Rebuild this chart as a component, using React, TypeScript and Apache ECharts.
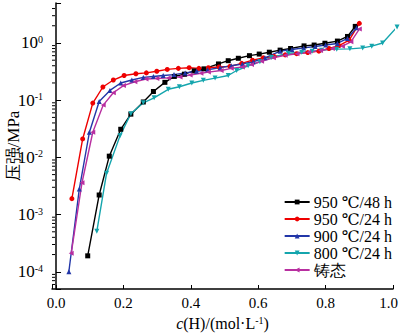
import React, { useEffect, useRef } from "react";
import * as echarts from "echarts";

const seriesNames = ["950 ℃/48 h", "950 ℃/24 h", "900 ℃/24 h", "800 ℃/24 h", "铸态"];
const seriesColors = ["#000000", "#ee0000", "#2236a8", "#14a5ad", "#b82fa0"];
const seriesSymbols = ["rect", "circle", "triangle", "triangle", "triangle"];
const seriesRotate = [0, 0, 0, 180, 90];

const x950_48 = [0.094, 0.128, 0.158, 0.192, 0.222, 0.259, 0.289, 0.323, 0.351, 0.381, 0.41, 0.439, 0.482, 0.511, 0.541, 0.574, 0.603, 0.633, 0.665, 0.696, 0.736, 0.766, 0.798, 0.835, 0.865, 0.888];
const p950_48 = [1.9e-4, 2.2e-3, 0.0105, 0.031, 0.057, 0.093, 0.142, 0.205, 0.26, 0.285, 0.325, 0.353, 0.43, 0.49, 0.54, 0.6, 0.64, 0.69, 0.75, 0.8, 0.89, 0.92, 0.99, 1.08, 1.3, 1.95];

const x950_24 = [0.047, 0.079, 0.109, 0.139, 0.17, 0.202, 0.237, 0.268, 0.299, 0.33, 0.363, 0.395, 0.424, 0.452, 0.484, 0.516, 0.551, 0.583, 0.615, 0.647, 0.68, 0.714, 0.747, 0.78, 0.81, 0.84, 0.87, 0.9];
const p950_24 = [1.9e-3, 0.021, 0.089, 0.17, 0.225, 0.27, 0.29, 0.3, 0.32, 0.345, 0.36, 0.37, 0.36, 0.37, 0.38, 0.39, 0.44, 0.5, 0.55, 0.58, 0.62, 0.65, 0.68, 0.72, 0.8, 0.9, 1.12, 2.2];

const x900_24 = [0.038, 0.069, 0.099, 0.128, 0.16, 0.192, 0.225, 0.259, 0.289, 0.318, 0.35, 0.383, 0.417, 0.45, 0.487, 0.52, 0.553, 0.585, 0.62, 0.665, 0.7, 0.735, 0.769, 0.8, 0.835, 0.865, 0.892];
const p900_24 = [1e-4, 2.8e-3, 0.0275, 0.095, 0.148, 0.2, 0.225, 0.25, 0.26, 0.27, 0.28, 0.3, 0.32, 0.34, 0.37, 0.4, 0.43, 0.47, 0.55, 0.72, 0.77, 0.82, 0.87, 0.92, 0.98, 1.2, 1.85];

const x800_24 = [0.121, 0.15, 0.19, 0.222, 0.259, 0.291, 0.333, 0.366, 0.403, 0.437, 0.472, 0.511, 0.536, 0.57, 0.605, 0.64, 0.689, 0.729, 0.76, 0.788, 0.833, 0.872, 0.91, 0.937, 0.969, 1.012];
const p800_24 = [5.1e-4, 5.3e-3, 0.024, 0.058, 0.09, 0.11, 0.155, 0.172, 0.2, 0.222, 0.243, 0.27, 0.33, 0.4, 0.47, 0.56, 0.66, 0.69, 0.72, 0.75, 0.78, 0.79, 0.82, 0.88, 1.0, 1.9];

const xCast = [0.045, 0.077, 0.109, 0.14, 0.17, 0.2, 0.234, 0.267, 0.299, 0.333, 0.368, 0.398, 0.43, 0.452, 0.49, 0.52, 0.553, 0.58, 0.61, 0.645, 0.68, 0.715, 0.75, 0.785, 0.82, 0.85, 0.875, 0.9];
const pCast = [2.1e-4, 3.6e-3, 0.0275, 0.082, 0.135, 0.18, 0.21, 0.235, 0.24, 0.245, 0.255, 0.275, 0.295, 0.31, 0.33, 0.36, 0.38, 0.42, 0.48, 0.55, 0.61, 0.65, 0.69, 0.74, 0.8, 0.88, 1.05, 1.75];

const xs = [x950_48, x950_24, x900_24, x800_24, xCast];
const ps = [p950_48, p950_24, p900_24, p800_24, pCast];

const xTickLabels = ["0.0", "0.2", "0.4", "0.6", "0.8", "1.0"];
const yMinorTicks = [
  6e-5, 7e-5, 8e-5, 9e-5,
  2e-4, 3e-4, 4e-4, 5e-4, 6e-4, 7e-4, 8e-4, 9e-4,
  2e-3, 3e-3, 4e-3, 5e-3, 6e-3, 7e-3, 8e-3, 9e-3,
  0.02, 0.03, 0.04, 0.05, 0.06, 0.07, 0.08, 0.09,
  0.2, 0.3, 0.4, 0.5, 0.6, 0.7, 0.8, 0.9,
  2, 3, 4,
];

const X_MIN = -0.012;
const X_MAX = 1.0;
const Y_MIN = 5e-5;
const Y_MAX = 5;

const FONT = "Liberation Serif, DejaVu Serif, serif";

export default function App() {
  const ref = useRef<HTMLDivElement>(null);
  useEffect(() => {
    if (!ref.current) return;
    const chart = echarts.init(ref.current, undefined, { renderer: "svg" });
    const lineSeries = seriesNames.map((name, i) => ({
      name,
      type: "line",
      data: xs[i].map((x, j) => [x, ps[i][j]]),
      symbol: seriesSymbols[i],
      symbolRotate: seriesRotate[i],
      symbolSize: 5,
      showSymbol: true,
      clip: false,
      smooth: false,
      lineStyle: { color: seriesColors[i], width: 1.4 },
      itemStyle: { color: seriesColors[i] },
      z: 3,
    }));
    const minorTickSeries = {
      type: "custom",
      name: "minorTicks",
      silent: true,
      clip: false,
      data: yMinorTicks.map((v) => [X_MIN, v]),
      renderItem: (_params: any, api: any) => {
        const pt = api.coord([api.value(0), api.value(1)]);
        return {
          type: "line",
          shape: { x1: pt[0], y1: pt[1], x2: pt[0] + 3, y2: pt[1] },
          style: { stroke: "#000", lineWidth: 1 },
        };
      },
      z: 4,
    };
    chart.setOption({
      animation: false,
      textStyle: { fontFamily: FONT },
      grid: { left: 52, right: 7, top: 3, bottom: 44, containLabel: false, outerBoundsMode: "none" },
      legend: {
        data: seriesNames,
        orient: "vertical",
        right: 3,
        top: 189,
        itemWidth: 25,
        itemHeight: 6,
        itemGap: 1,
        textStyle: { fontFamily: FONT, fontSize: 16, lineHeight: 16, color: "#000", padding: [0, 0, 0, -1] },
      },
      xAxis: {
        type: "value",
        min: X_MIN,
        max: X_MAX,
        splitNumber: 5,
        name: "{i|c}(H)/(mol·L{s|-1})",
        nameLocation: "middle",
        nameGap: 26,
        nameTextStyle: {
          fontFamily: FONT,
          fontSize: 16,
          color: "#000",
          rich: {
            i: { fontFamily: FONT, fontSize: 16, fontStyle: "italic", color: "#000", lineHeight: 16 },
            s: { fontFamily: FONT, fontSize: 10, color: "#000", verticalAlign: "top", lineHeight: 10 },
          },
        },
        axisLine: { show: true, lineStyle: { color: "#000", width: 1.5 } },
        axisTick: { show: true, inside: true, length: 4, lineStyle: { color: "#000" } },
        splitLine: { show: false },
        axisLabel: {
          color: "#000",
          fontFamily: FONT,
          fontSize: 15,
          margin: 6,
          formatter: (v: number) => {
            const k = Math.round(v * 5);
            if (Math.abs(v * 5 - k) > 1e-6 || k < 0 || k >= xTickLabels.length) return "";
            if (k === xTickLabels.length - 1) return `{r|${xTickLabels[k]}}`;
            return xTickLabels[k];
          },
          rich: {
            r: { fontFamily: FONT, fontSize: 15, color: "#000", padding: [0, 9, 0, 0] },
          },
        },
      },
      yAxis: {
        type: "log",
        logBase: 10,
        min: Y_MIN,
        max: Y_MAX,
        name: "压强/MPa",
        nameLocation: "middle",
        nameGap: 30,
        nameMoveOverlap: false,
        nameRotate: 90,
        nameTextStyle: { fontFamily: FONT, fontSize: 17, color: "#000" },
        axisLine: { show: true, lineStyle: { color: "#000", width: 1.5 } },
        axisTick: { show: true, inside: true, length: 5, lineStyle: { color: "#000" } },
        splitLine: { show: false },
        axisLabel: {
          color: "#000",
          margin: 9,
          fontFamily: FONT,
          formatter: (v: number) => {
            const l = Math.log10(v);
            const e = Math.round(l);
            if (Math.abs(l - e) > 1e-6) return "";
            return `{b|10}{s|${e}}`;
          },
          rich: {
            b: { fontFamily: FONT, fontSize: 17, color: "#000", lineHeight: 17 },
            s: { fontFamily: FONT, fontSize: 10, color: "#000", verticalAlign: "top", lineHeight: 10 },
          },
        },
      },
      series: [...lineSeries, minorTickSeries],
    });
    return () => chart.dispose();
  }, []);
  return <div ref={ref} style={{ width: 400, height: 333, position: "absolute", left: 0, top: 0 }} />;
}
